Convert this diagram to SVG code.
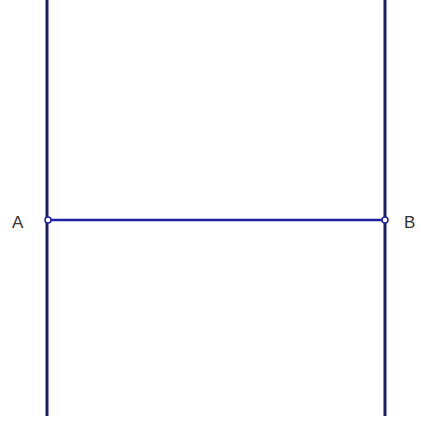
<svg xmlns="http://www.w3.org/2000/svg" width="421" height="421" viewBox="0 0 421 421">
<style>
.v{stroke:#1c1c6e;stroke-width:3}
.h{stroke:#1e22a0;stroke-width:2.5}
.pt{fill:#ffffff;stroke:#1e22a0;stroke-width:1.5}
text{font-family:"Liberation Sans",Arial,sans-serif;font-size:17px;fill:#333}
</style>
<rect width="421" height="421" fill="#fff"/>
<g id="connectors">
<line class="v" x1="47" y1="0" x2="47" y2="416"/>
<line class="v" x1="385" y1="0" x2="385" y2="416"/>
<line class="h" x1="47" y1="220" x2="385" y2="220"/>
</g>
<g id="A">
<circle class="pt" cx="48" cy="220" r="3"/>
<text x="12" y="228">A</text>
</g>
<g id="B">
<circle class="pt" cx="385" cy="220" r="3"/>
<text x="404" y="228">B</text>
</g>
</svg>
